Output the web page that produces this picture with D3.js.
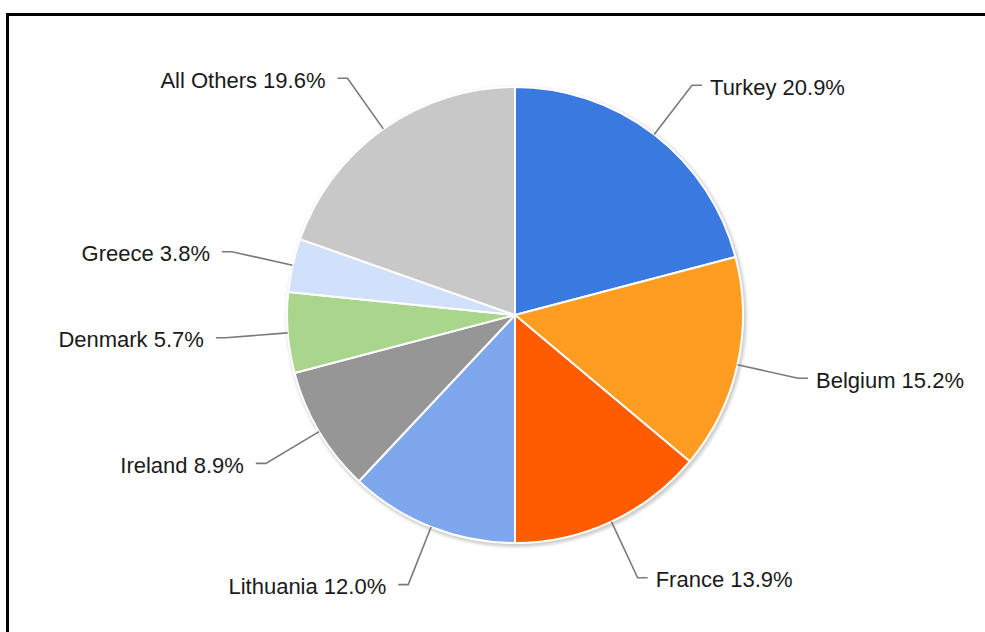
<!DOCTYPE html>
<html>
<head>
<meta charset="utf-8">
<script src="https://cdn.jsdelivr.net/npm/d3@7"></script>
<style>
  html, body { margin: 0; padding: 0; background: #fff; }
  svg { display: block; }
</style>
</head>
<body>
<svg id="chart" width="985" height="632"></svg>
<script>
// Share of total by country, clockwise from 12 o'clock
const countries = ["Turkey", "Belgium", "France", "Lithuania", "Ireland", "Denmark", "Greece", "All Others"];
const shares = [20.9, 15.2, 13.9, 12.0, 8.9, 5.7, 3.8, 19.6];
const sliceColors = ["#3a79e0", "#ff9c22", "#ff5b00", "#7ea7ee", "#969696", "#a9d68c", "#d2e1fb", "#c8c8c8"];

const svg = d3.select("#chart");
const cx = 515, cy = 315, R = 228;
const elbowR = 290, tail = 10;

// Frame
svg.append("rect")
  .attr("x", 7.5).attr("y", 14.5)
  .attr("width", 1100).attr("height", 800)
  .attr("fill", "#fff").attr("stroke", "#000").attr("stroke-width", 3);

const defs = svg.append("defs");
defs.append("filter").attr("id", "soft")
  .attr("x", "-10%").attr("y", "-10%").attr("width", "120%").attr("height", "120%")
  .append("feGaussianBlur").attr("stdDeviation", 1.6);

const data = countries.map((c, i) => ({ name: c, value: shares[i], color: sliceColors[i] }));

const pie = d3.pie().value(d => d.value).sort(null);
const arcs = pie(data);
const arc = d3.arc().innerRadius(0).outerRadius(R);

const g = svg.append("g").attr("transform", `translate(${cx},${cy})`);

// Drop shadow ring
g.append("circle")
  .attr("cx", 1.5).attr("cy", 2).attr("r", R + 2)
  .attr("fill", "#cfcfcf")
  .attr("filter", "url(#soft)");

g.selectAll("path.slice")
  .data(arcs)
  .join("path")
  .attr("class", "slice")
  .attr("d", arc)
  .attr("fill", d => d.data.color)
  .attr("stroke", "#fff")
  .attr("stroke-width", 2)
  .attr("stroke-linejoin", "round");

// Leader lines and labels
const labels = svg.append("g");
arcs.forEach(a => {
  const mid = (a.startAngle + a.endAngle) / 2;
  const sx = cx + R * Math.sin(mid), sy = cy - R * Math.cos(mid);
  const ex = cx + elbowR * Math.sin(mid), ey = cy - elbowR * Math.cos(mid);
  const right = Math.sin(mid) >= 0;
  const tx = ex + (right ? tail : -tail);
  labels.append("polyline")
    .attr("points", `${sx},${sy} ${ex},${ey} ${tx},${ey}`)
    .attr("fill", "none")
    .attr("stroke", "#7a7a7a")
    .attr("stroke-width", 1.6);
  labels.append("text")
    .attr("x", tx + (right ? 8 : -12))
    .attr("y", ey)
    .attr("dy", "0.42em")
    .attr("text-anchor", right ? "start" : "end")
    .attr("font-family", "Liberation Sans, Arial, sans-serif")
    .attr("font-size", 22)
    .attr("fill", "#1a1a1a")
    .text(`${a.data.name} ${a.data.value.toFixed(1)}%`);
});
</script>
</body>
</html>
